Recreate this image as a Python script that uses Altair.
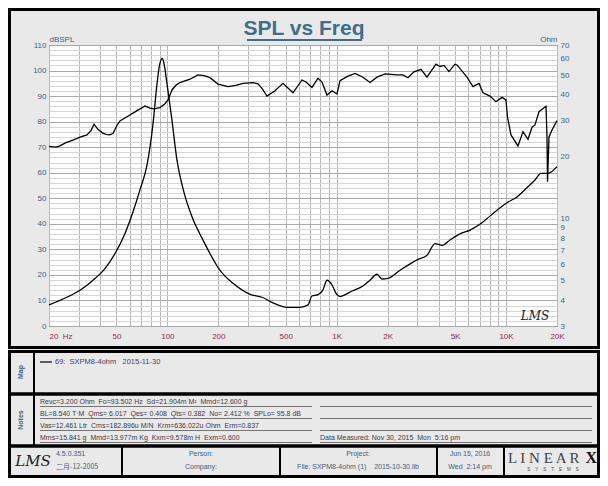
import altair as alt
import pandas as pd

# ---------------- data ----------------
spl_freq = [20, 22.0, 23.2, 25.2, 27.7, 30.5, 33.5, 35.4, 36.9, 38.9, 41.1, 43.4, 45.8, 47.8,
            50.4, 52.5, 57.8, 66.2, 73.8, 79.0, 83.4, 90.5, 96.8, 100.9, 106.5, 112.5, 118.7,
            136.0, 151.7, 164.6, 178.5, 199.1, 228.1, 254.3, 279.7, 320.5, 343.0, 362.2, 387.7,
            432.2, 481.8, 552.0, 624.0, 658.8, 714.6, 775.6, 819, 876, 939, 1004, 1046, 1150,
            1283, 1430, 1573, 1730, 1929, 2270, 2462, 2637, 2860, 3146, 3415, 3860, 4074, 4302,
            4604, 4994, 5133, 5881, 6380, 6924, 7311, 8043, 8722, 9464, 9990, 10196, 10698,
            11766, 12596, 13484, 14238, 14826, 15660, 17220, 17460, 17580, 17940, 18686, 20000]
spl_db = [70.3, 70.0, 70.5, 71.8, 72.8, 73.9, 74.8, 76.5, 79.0, 77.0, 75.7, 75.0, 74.8, 75.4,
          78.5, 80.3, 81.9, 84.3, 86.1, 85.3, 85.0, 85.5, 87.0, 88.5, 92.4, 94.3, 95.3,
          96.6, 98.3, 98.0, 97.2, 94.7, 93.7, 94.2, 95.0, 95.3, 94.8, 93.0, 90.0,
          92.1, 95.0, 91.3, 96.3, 95.5, 93.4, 97.0, 95.5, 90.4, 92.1, 90.8, 96.0, 97.6,
          98.9, 97.4, 95.3, 97.4, 98.7, 98.3, 98.3, 97.2, 99.5, 100.5, 97.4, 102.5, 101.6, 102.0,
          99.6, 102.5, 102.2, 97.4, 93.7, 95.0, 91.3, 90.0, 87.8, 89.5, 88.5, 81.9, 74.8,
          70.5, 76.1, 73.1, 77.8, 78.7, 83.9, 86.0, 74.0, 56.5, 74.0, 76.7, 80.4]

imp_freq = [20, 25.5, 30.5, 36.4, 42.8, 49.1, 56.2, 62.7, 68.9, 75.8, 82.3, 86.9, 89.9, 93.5,
            95.5, 99.5, 106.5, 114.0, 123.7, 139.8, 162.3, 204.6, 244.2, 307.6, 362.2, 420.6,
            508.7, 607.4, 676.9, 714.6, 775.6, 830, 876, 939, 991, 1046, 1090, 1231, 1430,
            1573, 1730, 1851, 2009, 2365, 2980, 3415, 3808, 4188, 4669, 5348, 6128, 7214,
            8377, 10132, 11606, 13484, 14826, 16092, 17698, 20000]
imp_ohm = [3.80, 4.14, 4.48, 5.01, 5.71, 6.76, 8.47, 10.8, 13.8, 18.2, 29.0, 45.4, 55.8, 60.3,
           57.0, 45.4, 30.1, 19.2, 14.0, 10.2, 7.87, 5.60, 4.84, 4.28, 4.14, 3.89,
           3.70, 3.70, 3.80, 4.20, 4.26, 4.50, 5.01, 4.75, 4.32, 4.17, 4.22, 4.44, 4.70,
           5.01, 5.36, 5.08, 5.12, 5.60, 6.30, 6.63, 7.56, 7.41, 7.87, 8.42, 8.79, 9.54,
           10.6, 11.95, 12.75, 14.3, 15.4, 16.6, 16.6, 17.9]

x_grid = [20, 30, 40, 50, 60, 70, 80, 90, 100, 200, 300, 400, 500, 600, 700, 800, 900,
          1000, 2000, 3000, 4000, 5000, 6000, 7000, 8000, 9000, 10000, 20000]
x_label_vals = [20, 50, 100, 200, 500, 1000, 2000, 5000, 10000, 20000]
x_label_text = ["20  Hz", "50", "100", "200", "500", "1K", "2K", "5K", "10K", "20K"]
db_ticks = list(range(0, 111, 2))
ohm_ticks = [3, 4, 5, 6, 7, 8, 9, 10, 20, 30, 40, 50, 60, 70]

notes_left = [
    "Revc=3.200 Ohm  Fo=93.502 Hz  Sd=21.904m M²  Mmd=12.600 g",
    "BL=8.540 T·M  Qms= 6.017  Qes= 0.408  Qts= 0.382  No= 2.412 %  SPLo= 95.8 dB",
    "Vas=12.461 Ltr  Cms=182.896u M/N  Krm=636.022u Ohm  Erm=0.837",
    "Mms=15.841 g  Mmd=13.977m Kg  Kxm=9.578m H  Exm=0.600",
]
notes_right = ["", "", "", "Data Measured: Nov 30, 2015  Mon  5:16 pm"]

# ---------------- layout ----------------
OX, OY = 49, 45          # page position of plot origin
W, H = 508, 281
FONT = "Liberation Sans Narrow, Liberation Sans, Arial, sans-serif"
BLUE = "#3d5f80"
MAROON = "#8b2a4a"
one = pd.DataFrame({"d": [0]})


def nb(s):
    # keep repeated spaces visible in SVG
    return s.replace("  ", "\u00a0\u00a0")


def txt(s, px, py, size=8, color="#333333", align="left", baseline="middle",
        weight="normal", font=FONT, angle=0, style="normal"):
    return alt.Chart(one).mark_text(
        text=nb(s), align=align, baseline=baseline, fontSize=size, color=color,
        fontWeight=weight, font=font, angle=angle, fontStyle=style
    ).encode(x=alt.value(px - OX), y=alt.value(py - OY))


def box(x1, y1, x2, y2, sw=3, fill=None):
    kw = dict(stroke="black", strokeWidth=sw)
    if fill:
        kw["fill"] = fill
    else:
        kw["fillOpacity"] = 0
    return alt.Chart(one).mark_rect(**kw).encode(
        x=alt.value(x1 - OX), x2=alt.value(x2 - OX),
        y=alt.value(y1 - OY), y2=alt.value(y2 - OY))


def hline(x1, x2, y, color="black", sw=1):
    return alt.Chart(one).mark_rule(color=color, strokeWidth=sw).encode(
        x=alt.value(x1 - OX), x2=alt.value(x2 - OX), y=alt.value(y - OY))


def vline(x, y1, y2, color="black", sw=1):
    return alt.Chart(one).mark_rule(color=color, strokeWidth=sw).encode(
        x=alt.value(x - OX), y=alt.value(y1 - OY), y2=alt.value(y2 - OY))


label_map = "{" + ",".join("'%d':'%s'" % (v, t.replace("  ", "\u00a0\u00a0"))
                           for v, t in zip(x_label_vals, x_label_text)) + "}"

x_axis = alt.Axis(
    values=x_grid, labelExpr="(%s)[''+datum.value] || ''" % label_map,
    grid=True, gridColor="#b8b8b8", gridWidth=1, ticks=False, domain=False,
    labelColor=MAROON, labelFontSize=8, labelFont=FONT, labelPadding=6,
    labelOverlap=False, labelFlush=False,
    labelAlign={"condition": {"test": "datum.value <= 20", "value": "left"}, "value": "center"},
    title=None)

x_enc = alt.X("f:Q", scale=alt.Scale(type="log", domain=[20, 20000], nice=False), axis=x_axis)

spl_df = pd.DataFrame({"f": spl_freq, "v": spl_db})
imp_df = pd.DataFrame({"f": imp_freq, "v": imp_ohm})

spl_line = alt.Chart(spl_df).mark_line(color="black", strokeWidth=1.3).encode(
    x=x_enc,
    y=alt.Y("v:Q", scale=alt.Scale(domain=[0, 110], nice=False),
            axis=alt.Axis(orient="left", values=db_ticks,
                          labelExpr="datum.value % 10 == 0 ? datum.label : ''",
                          grid=True,
                          gridColor={"condition": {"test": "datum.value % 10 == 0", "value": "#a8a8a8"},
                                     "value": "#d6d6d6"},
                          ticks=False, domain=False, labelOverlap=False,
                          labelColor=BLUE, labelFontSize=8, labelFont=FONT, labelPadding=3,
                          title="dBSPL", titleAngle=0, titleAlign="left", titleBaseline="bottom",
                          titleX=0, titleY=-2, titleFontSize=8, titleFont=FONT,
                          titleFontWeight="normal", titleColor=BLUE)),
    order=alt.Order("f:Q"))

imp_line = alt.Chart(imp_df).mark_line(color="black", strokeWidth=1.3, interpolate="monotone").encode(
    x=x_enc,
    y=alt.Y("v:Q", scale=alt.Scale(type="log", domain=[3, 70], nice=False),
            axis=alt.Axis(orient="right", values=ohm_ticks, grid=False, ticks=False, domain=False,
                          labelOverlap=False, labelColor=BLUE, labelFontSize=8, labelFont=FONT,
                          labelPadding=3, format="d",
                          title="Ohm", titleAngle=0, titleAlign="right", titleBaseline="bottom",
                          titleX=0, titleY=-2, titleFontSize=8, titleFont=FONT,
                          titleFontWeight="normal", titleColor=BLUE)),
    order=alt.Order("f:Q"))

layers = []
# frames
layers.append(box(9.5, 9.5, 598.5, 347.5, sw=3))
layers.append(box(9.5, 351.5, 598.5, 394, sw=3))
layers.append(vline(34, 351.5, 394, sw=2))
layers.append(box(9.5, 394, 598.5, 446, sw=3))
layers.append(vline(34, 394, 446, sw=2))
layers.append(box(9.5, 446, 598.5, 476.5, sw=3))
for xd in [122, 280, 437, 504]:
    layers.append(vline(xd, 446, 476.5, sw=2))

# title
layers.append(txt("SPL vs Freq", 304, 29, size=21, color="#3e6e8a", align="center", weight="bold",
                  font="Liberation Sans, Arial, sans-serif"))
layers.append(hline(247, 362, 40, color="#3e6e8a", sw=2))

# LMS logo in plot
layers.append(txt("LMS", 535, 316, size=12, color="#222222", align="center",
                  font="DejaVu Serif, serif", style="italic"))

# map panel
layers.append(txt("Map", 21, 372, size=7, color=BLUE, align="center", weight="bold", angle=270,
                  font="Liberation Sans, Arial, sans-serif"))
layers.append(hline(40, 52, 362, color="black", sw=1.2))
layers.append(txt("69:  SXPM8-4ohm   2015-11-30", 55, 362, size=7.5, color="#4a3f5c"))

# notes panel
layers.append(txt("Notes", 21, 420, size=7, color=BLUE, align="center", weight="bold", angle=270,
                  font="Liberation Sans, Arial, sans-serif"))
row_y = [402, 414, 426, 438]
for s, y in zip(notes_left, row_y):
    layers.append(txt(s, 40, y, size=7, color="#3a3a4a"))
    layers.append(hline(40, 312, y + 4.5, color="#555555", sw=0.8))
for s, y in zip(notes_right, row_y):
    if s:
        layers.append(txt(s, 320, y, size=7, color="#3a3a4a"))
    layers.append(hline(320, 592, y + 4.5, color="#555555", sw=0.8))

# footer
layers.append(txt("LMS", 33, 461, size=15, color="#222222", align="center",
                  font="DejaVu Serif, serif", style="italic"))
layers.append(txt("4.5.0.351", 56, 454, size=7, color=BLUE))
layers.append(txt("二月-12-2005", 56, 467, size=7, color=BLUE, font="Noto Sans CJK SC, sans-serif"))
layers.append(txt("Person:", 201, 454, size=7, color=BLUE, align="center"))
layers.append(txt("Company:", 201, 467, size=7, color=BLUE, align="center"))
layers.append(txt("Project:", 358, 454, size=7, color=BLUE, align="center"))
layers.append(txt("File: SXPM8-4ohm (1)    2015-10-30.lib", 358, 467, size=7, color=BLUE, align="center"))
layers.append(txt("Jun 15, 2016", 470, 454, size=7, color=BLUE, align="center"))
layers.append(txt("Wed  2:14 pm", 470, 467, size=7, color=BLUE, align="center"))
layers.append(txt("L I N E A R", 508, 458, size=15, color="#444444", font="Liberation Serif, serif"))
layers.append(txt("X", 597, 458, size=16, color="#111111", align="right", weight="bold",
                  font="Liberation Serif, serif"))
layers.append(txt("S    Y    S    T    E    M    S", 553, 470, size=4.5, color="#444444", align="center"))

chart = alt.layer(spl_line, imp_line, *layers).resolve_scale(y="independent").properties(
    width=W, height=H,
    padding={"left": 41, "top": 37, "right": 43, "bottom": 152},
    autosize=alt.AutoSizeParams(type="none"),
    background="#e9e9e9",
).configure_view(fill="white", stroke="black", strokeWidth=1)

chart.save("out.html", embed_options={"renderer": "svg", "actions": False})
